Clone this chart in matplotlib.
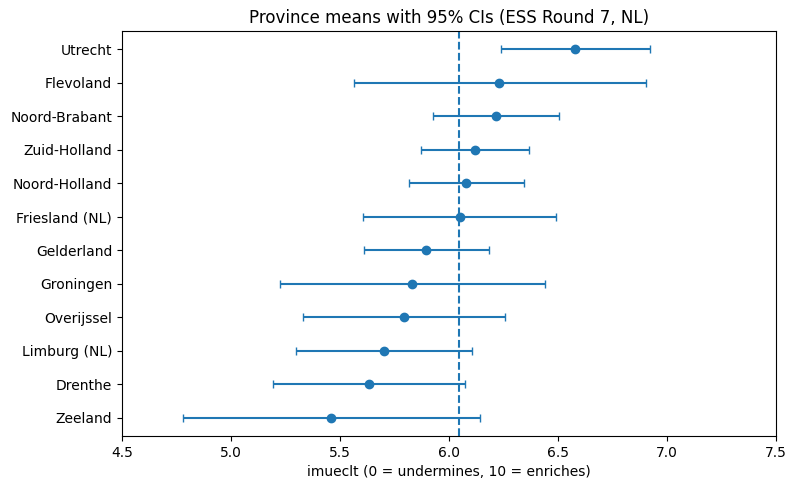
import numpy as np
import matplotlib
matplotlib.use("Agg")
import matplotlib.pyplot as plt

# Province means and 95% CI bounds (bottom to top).
provinces = ['Zeeland', 'Drenthe', 'Limburg (NL)', 'Overijssel', 'Groningen',
             'Gelderland', 'Friesland (NL)', 'Noord-Holland', 'Zuid-Holland',
             'Noord-Brabant', 'Flevoland', 'Utrecht']
means = [5.459, 5.634, 5.703, 5.795, 5.832, 5.895, 6.048, 6.079, 6.119,
         6.215, 6.230, 6.578]
ci_low = [4.779, 5.191, 5.297, 5.330, 5.226, 5.610, 5.603, 5.816, 5.871,
          5.924, 5.565, 6.240]
ci_high = [6.140, 6.075, 6.107, 6.254, 6.438, 6.185, 6.489, 6.342, 6.364,
           6.505, 6.901, 6.919]
overall_mean = 6.046

means = np.array(means)
err = np.vstack([means - np.array(ci_low), np.array(ci_high) - means])
y = np.arange(len(provinces))

fig, ax = plt.subplots(figsize=(7.97, 4.9), dpi=100)
fig.subplots_adjust(left=0.153, right=0.974, top=0.937, bottom=0.110)

ax.errorbar(means, y, xerr=err, fmt='o', capsize=3)
ax.axvline(overall_mean, linestyle='--')
ax.set_yticks(y)
ax.set_yticklabels(provinces)
ax.set_xlim(4.5, 7.5)
ax.set_xlabel('imueclt (0 = undermines, 10 = enriches)')
ax.set_title('Province means with 95% CIs (ESS Round 7, NL)')

plt.savefig('out.png', dpi=100)
